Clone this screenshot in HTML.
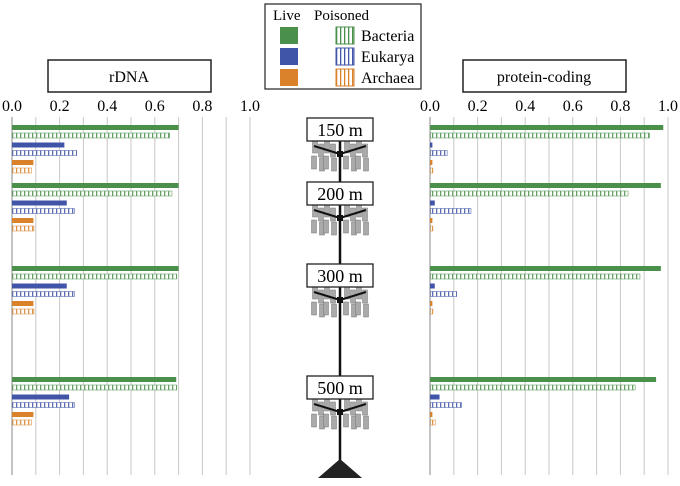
<!DOCTYPE html>
<html><head><meta charset="utf-8"><style>
body{margin:0;background:#fff;font-family:"Liberation Serif",serif}
svg text{font-family:"Liberation Serif",serif}
</style></head><body>
<svg id="c" width="680" height="481" xmlns="http://www.w3.org/2000/svg" font-family="Liberation Serif, serif">
<defs>
<pattern id="pg" width="4" height="6" patternUnits="userSpaceOnUse"><rect width="4" height="6" fill="#fff"/><rect width="1.3" height="6" fill="#4a8f4a"/></pattern>
<pattern id="pb" width="4" height="6" patternUnits="userSpaceOnUse"><rect width="4" height="6" fill="#fff"/><rect width="1.3" height="6" fill="#4054a8"/></pattern>
<pattern id="po" width="4" height="6" patternUnits="userSpaceOnUse"><rect width="4" height="6" fill="#fff"/><rect width="1.3" height="6" fill="#d9822b"/></pattern>
</defs>
</svg>
<script>
const depths=["150 m","200 m","300 m","500 m"];
const ticks=["0.0","0.2","0.4","0.6","0.8","1.0"];
const rdnaLive=[[0.70,0.22,0.09],[0.70,0.23,0.09],[0.70,0.23,0.09],[0.69,0.24,0.09]];
const rdnaPois=[[0.66,0.27,0.08],[0.67,0.26,0.09],[0.69,0.26,0.09],[0.69,0.26,0.08]];
const protLive=[[0.98,0.01,0.01],[0.97,0.02,0.01],[0.97,0.02,0.01],[0.95,0.04,0.01]];
const protPois=[[0.92,0.07,0.01],[0.83,0.17,0.01],[0.88,0.11,0.01],[0.86,0.13,0.02]];
const svg=document.getElementById('c');const NS="http://www.w3.org/2000/svg";
function mk(t,a,p){const e=document.createElementNS(NS,t);for(const k in a)e.setAttribute(k,a[k]);(p||svg).appendChild(e);return e;}
const groupTop=[125,183,266,377];
const colors=["#4a8f4a","#4054a8","#d9822b"];const pats=["url(#pg)","url(#pb)","url(#po)"];
const names=["bacteria","eukarya","archaea"];
function panel(x0,x1,live,pois,nm){
  const sx=v=>x0+v*(x1-x0);
  for(let i=0;i<=10;i++){const g=mk('line',{x1:sx(i/10),x2:sx(i/10),y1:117,y2:475,stroke:i==0?'#888':'#c8c8c8','stroke-width':1});
  }
  ticks.forEach((t,i)=>{const e=mk('text',{x:sx(i*0.2),y:111,'font-size':16,'text-anchor':'middle'});e.textContent=t;
  });
  groupTop.forEach((gy,g)=>{for(let k=0;k<3;k++){
    const y=gy+k*17.5;
    const a=mk('rect',{x:x0,y:y,width:sx(live[g][k])-x0,height:5,fill:colors[k]});
    
    const b=mk('rect',{x:x0+0.5,y:y+8,width:sx(pois[g][k])-x0,height:5,fill:pats[k],stroke:colors[k],'stroke-width':0.6,opacity:0.85});
    
  }});
}
panel(12,250,rdnaLive,rdnaPois,'rdna');
panel(430,668,protLive,protPois,'protein');
[[48,'rDNA','rdna-title'],[463,'protein-coding','protein-coding-title']].forEach(([x,t,n])=>{
 const r=mk('rect',{x:x,y:60,width:163,height:32,fill:'#fff',stroke:'#222','stroke-width':1.5});
 const e=mk('text',{x:x+81,y:82,'font-size':16,'text-anchor':'middle'});e.textContent=t;});
const lg=mk('g',{});
mk('rect',{x:265,y:4,width:156,height:85,fill:'#fff',stroke:'#222','stroke-width':1.2},lg);
let t=mk('text',{x:273,y:20,'font-size':15},lg);t.textContent='Live';
t=mk('text',{x:314,y:20,'font-size':15},lg);t.textContent='Poisoned';
["Bacteria","Eukarya","Archaea"].forEach((n,k)=>{const y=27+k*21;
 mk('rect',{x:280,y:y,width:18,height:17,fill:colors[k]},lg);
 mk('rect',{x:336,y:y,width:18,height:17,fill:pats[k],stroke:colors[k],'stroke-width':1},lg);
 const e=mk('text',{x:361,y:y+14,'font-size':16},lg);e.textContent=n;});
const m=mk('g',{});
mk('line',{x1:340,x2:340,y1:128,y2:465,stroke:'#111','stroke-width':2.5},m);
mk('polygon',{points:'318,478 362,478 340,459',fill:'#222'},m);
const boxY=[118,182,264,376];
boxY.forEach((y,i)=>{
 const cy=y+36;
 [-25,-19,-13,-7,7,13,19,25].forEach((dx,j)=>{mk('rect',{x:340+dx-2.5,y:cy-14+(j%2)*4,width:5,height:13,fill:'#aaa',stroke:'#777','stroke-width':0.5},m);
  mk('rect',{x:340+dx-2.5+(j%2?1:-1),y:cy+2+(j%2)*2,width:5,height:13,fill:'#aaa',stroke:'#777','stroke-width':0.5},m);});
 mk('line',{x1:314,y1:cy-8,x2:340,y2:cy,stroke:'#111','stroke-width':2},m);
 mk('line',{x1:366,y1:cy-8,x2:340,y2:cy,stroke:'#111','stroke-width':2},m);
 mk('rect',{x:337,y:cy-3,width:6,height:6,fill:'#111'},m);
 mk('rect',{x:307,y:y,width:66,height:23,fill:'#fff',stroke:'#222','stroke-width':1.3},m);
 const e=mk('text',{x:340,y:y+18,'font-size':18,'text-anchor':'middle'},m);e.textContent=depths[i];
 
});
</script>
</body></html>
